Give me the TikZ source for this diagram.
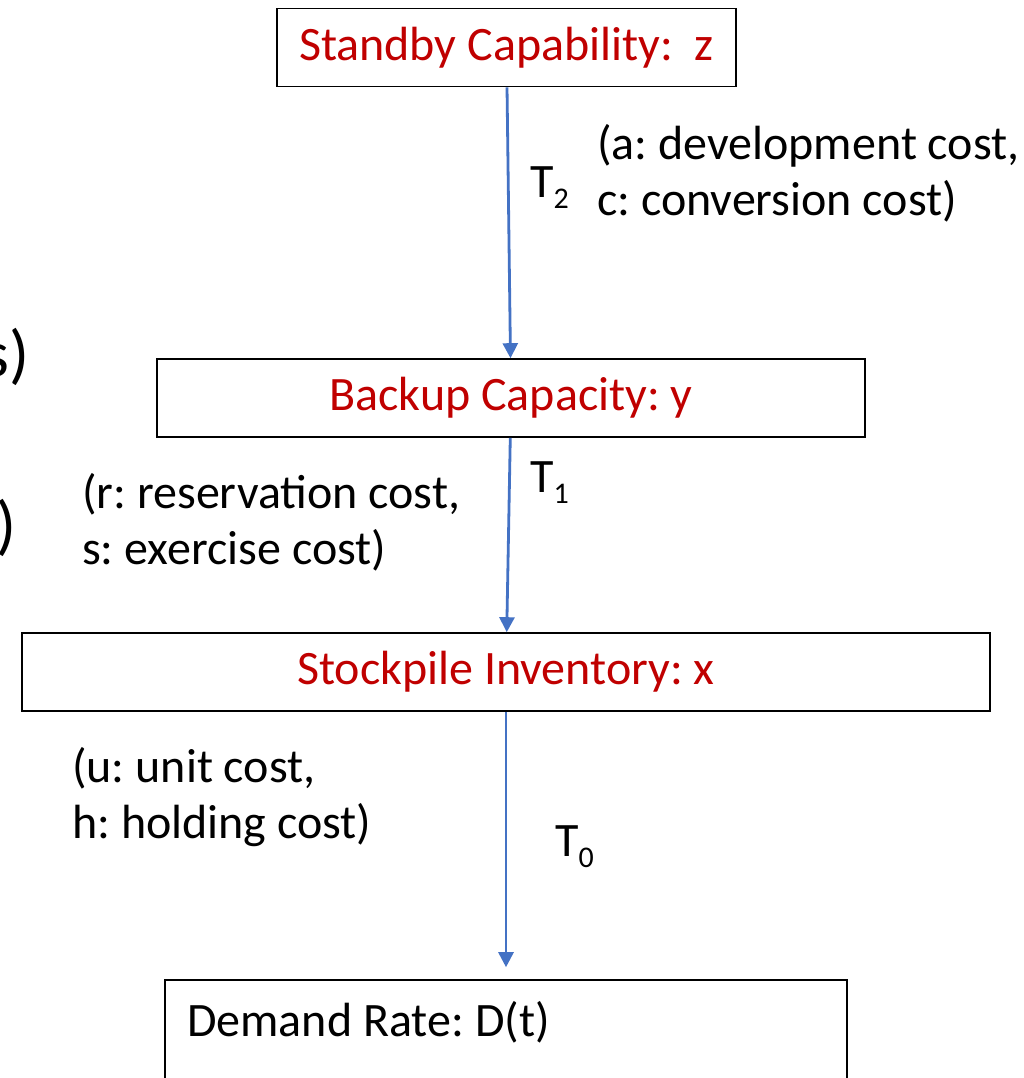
\documentclass[tikz,border=0pt]{standalone}
\usepackage{fontspec}
\setmainfont{Carlito}
\usetikzlibrary{arrows.meta,positioning}
\definecolor{tlRed}{RGB}{192,0,0}
\definecolor{tlBlue}{RGB}{68,114,196}
\newcommand{\tlabel}[1]{T\raisebox{-11pt}{\fontsize{30}{30}\selectfont #1}}
\frenchspacing

\begin{document}
\begin{tikzpicture}[x=1pt,y=-1pt,
  every node/.style={font=\fontsize{48}{56}\selectfont},
  levelbox/.style={draw,line width=1.6pt,inner sep=0pt,minimum height=78pt,text=tlRed},
  flow/.style={draw=tlBlue,line width=2.8pt,-{Triangle[length=15pt,width=15pt]}},
  note/.style={align=left,anchor=west,inner sep=0pt}]
  \path[use as bounding box,clip] (0,0) rectangle (1024,1078);
  % levels
  \node[levelbox,minimum width=459pt] (z) at (506.5,47.5) {Standby Capability:\ \ z};
  \node[levelbox,minimum width=708pt] (y) at (511,398) {Backup Capacity: y};
  \node[levelbox,minimum width=968pt] (x) at (506,672) {Stockpile Inventory: x};
  \node[levelbox,minimum width=682pt,minimum height=140pt] (D) at (506,1050) {};
  \node[anchor=west,inner sep=0pt] (dtext) at (187,1022) {Demand Rate: D(t)};
  % flows
  \draw[flow] (z) -- (y);
  \draw[flow] (y) -- (x);
  \draw[flow,shorten >=12pt] (x) -- (D);
  \node[anchor=base west,inner sep=0pt] (t2) at (530,197) {\tlabel{2}};
  \node[anchor=base west,inner sep=0pt] (t1) at (530,492) {\tlabel{1}};
  \node[anchor=base west,inner sep=0pt] (t0) at (555,856) {\tlabel{0}};
  % costs
  \node[note] (acost) at (597,173) {(a: development cost,\\c: conversion cost)};
  \node[note] (rcost) at (82,522) {(r: reservation cost,\\s: exercise cost)};
  \node[note] (ucost) at (72,797) {(u: unit cost,\\h: holding cost)};
  % cut-off text at left edge
  \node[anchor=east,inner sep=0pt,font=\fontsize{66}{66}\selectfont] (cut1) at (30,357) {s)};
  \node[anchor=east,inner sep=0pt,font=\fontsize{66}{66}\selectfont] (cut2) at (17,528) {)};
\end{tikzpicture}
\end{document}
